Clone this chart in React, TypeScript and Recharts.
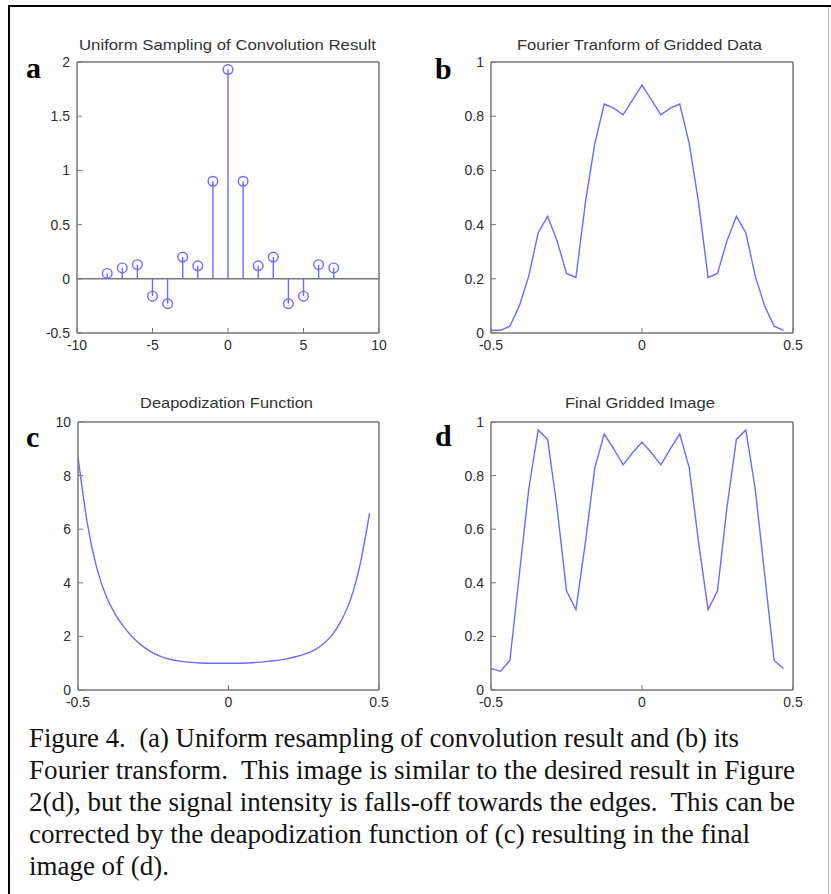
import React from "react";
import { ComposedChart, Line, Scatter, XAxis, YAxis, ReferenceLine } from "recharts";

// (a) stem samples
const stemX = [-8, -7, -6, -5, -4, -3, -2, -1, 0, 1, 2, 3, 4, 5, 6, 7];
const stemY = [0.05, 0.1, 0.13, -0.16, -0.23, 0.2, 0.12, 0.9, 1.93, 0.9, 0.12, 0.2, -0.23, -0.16, 0.13, 0.1];

// (b)-(d) share the same 32 sample positions
const freqX = [
  -0.5, -0.46875, -0.4375, -0.40625, -0.375, -0.34375, -0.3125, -0.28125,
  -0.25, -0.21875, -0.1875, -0.15625, -0.125, -0.09375, -0.0625, -0.03125,
  0, 0.03125, 0.0625, 0.09375, 0.125, 0.15625, 0.1875, 0.21875,
  0.25, 0.28125, 0.3125, 0.34375, 0.375, 0.40625, 0.4375, 0.46875,
];
const fourierY = [
  0.01, 0.01, 0.025, 0.1, 0.21, 0.37, 0.43, 0.34,
  0.22, 0.205, 0.48, 0.7, 0.845, 0.83, 0.805, 0.86,
  0.915, 0.86, 0.805, 0.83, 0.845, 0.7, 0.48, 0.205,
  0.22, 0.34, 0.43, 0.37, 0.21, 0.1, 0.025, 0.01,
];
const deapY = [
  8.7, 6.2, 4.55, 3.5, 2.8, 2.3, 1.9, 1.6,
  1.38, 1.23, 1.13, 1.07, 1.03, 1.01, 1.0, 1.0,
  1.0, 1.0, 1.01, 1.03, 1.06, 1.1, 1.15, 1.23,
  1.33, 1.47, 1.7, 2.05, 2.6, 3.4, 4.7, 6.6,
];
const finalY = [
  0.08, 0.07, 0.11, 0.43, 0.75, 0.97, 0.935, 0.68,
  0.37, 0.3, 0.55, 0.83, 0.955, 0.9, 0.84, 0.885,
  0.925, 0.885, 0.84, 0.9, 0.955, 0.83, 0.55, 0.3,
  0.37, 0.68, 0.935, 0.97, 0.75, 0.43, 0.11, 0.08,
];

const stemTicksX = [-10, -5, 0, 5, 10];
const stemTicksY = [-0.5, 0, 0.5, 1, 1.5, 2];
const unitTicksX = [-0.5, 0, 0.5];
const fracTicksY = [0, 0.2, 0.4, 0.6, 0.8, 1];
const deapTicksY = [0, 2, 4, 6, 8, 10];

const titles = [
  "Uniform Sampling of Convolution Result",
  "Fourier Tranform of Gridded Data",
  "Deapodization Function",
  "Final Gridded Image",
];
const captionLines = [
  "Figure 4.  (a) Uniform resampling of convolution result and (b) its",
  "Fourier transform.  This image is similar to the desired result in Figure",
  "2(d), but the signal intensity is falls-off towards the edges.  This can be",
  "corrected by the deapodization function of (c) resulting in the final",
  "image of (d).",
];

const stemRows = stemX.map((x, i) => ({ x, y: stemY[i] }));
const fourierRows = freqX.map((x, i) => ({ x, y: fourierY[i] }));
const deapRows = freqX.map((x, i) => ({ x, y: deapY[i] }));
const finalRows = freqX.map((x, i) => ({ x, y: finalY[i] }));

const AXIS = "#777";
const BLUE = "#6b6bff";
const SANS = "'Liberation Sans', Arial, sans-serif";
const SERIF = "'Liberation Serif', 'Times New Roman', serif";
const tickFont = { fontSize: 14, fill: "#2e2e2e", fontFamily: SANS };
const axisLine = { stroke: AXIS, strokeWidth: 1.5 };

type PanelProps = {
  left: number;
  top: number;
  w: number;
  h: number;
  xDomain: [number, number];
  xTicks: number[];
  yDomain: [number, number];
  yTicks: number[];
  data: { x: number; y: number }[];
  children: React.ReactNode;
};

const Panel = ({ left, top, w, h, xDomain, xTicks, yDomain, yTicks, data, children }: PanelProps) => (
  <div style={{ position: "absolute", left: left - 60, top: top - 10 }}>
    <ComposedChart width={60 + w + 10} height={10 + h + 30} data={data} margin={{ top: 9, right: 9, left: 0, bottom: 0 }}>
      <XAxis xAxisId="b" dataKey="x" type="number" domain={xDomain} ticks={xTicks} interval={0} allowDataOverflow
        height={30} tickSize={-5} tickMargin={12} tick={tickFont} axisLine={axisLine} tickLine={{ stroke: AXIS }} />
      <XAxis xAxisId="t" orientation="top" type="number" domain={xDomain} ticks={xTicks} interval={0} allowDataOverflow
        height={1} tickSize={-5} tick={false} axisLine={axisLine} tickLine={{ stroke: AXIS }} />
      <YAxis yAxisId="l" type="number" domain={yDomain} ticks={yTicks} interval={0} allowDataOverflow
        width={60} tickSize={-5} tickMargin={12} tick={tickFont} axisLine={axisLine} tickLine={{ stroke: AXIS }} />
      <YAxis yAxisId="r" orientation="right" type="number" domain={yDomain} ticks={yTicks} interval={0} allowDataOverflow
        width={1} tickSize={-5} tick={false} axisLine={axisLine} tickLine={{ stroke: AXIS }} />
      {children}
    </ComposedChart>
  </div>
);

const curve = (type: "linear" | "monotone") => (
  <Line xAxisId="b" yAxisId="l" type={type} dataKey="y" stroke={BLUE} strokeWidth={1.4} dot={false} isAnimationActive={false} />
);

export default function App() {
  return (
    <div style={{ position: "absolute", left: 0, top: 0, width: 831, height: 894, background: "#fff", overflow: "hidden" }}>
      <Panel left={77} top={62} w={302} h={271} xDomain={[-10, 10]} xTicks={stemTicksX} yDomain={[-0.5, 2]} yTicks={stemTicksY} data={stemRows}>
        <ReferenceLine xAxisId="b" yAxisId="l" y={0} stroke={AXIS} strokeWidth={1.5} />
        {stemRows.map((r) => (
          <ReferenceLine key={r.x} xAxisId="b" yAxisId="l" segment={[{ x: r.x, y: 0 }, { x: r.x, y: r.y }]} stroke={BLUE} strokeWidth={1.4} />
        ))}
        <Scatter xAxisId="b" yAxisId="l" data={stemRows} dataKey="y" isAnimationActive={false}
          shape={(p: any) => <circle cx={p.cx} cy={p.cy} r={4.8} fill="none" stroke={BLUE} strokeWidth={1.4} />} />
      </Panel>
      <Panel left={491} top={62} w={302} h={271} xDomain={[-0.5, 0.5]} xTicks={unitTicksX} yDomain={[0, 1]} yTicks={fracTicksY} data={fourierRows}>
        {curve("linear")}
      </Panel>
      <Panel left={78} top={422} w={301} h={268} xDomain={[-0.5, 0.5]} xTicks={unitTicksX} yDomain={[0, 10]} yTicks={deapTicksY} data={deapRows}>
        {curve("monotone")}
      </Panel>
      <Panel left={491} top={422} w={302} h={268} xDomain={[-0.5, 0.5]} xTicks={unitTicksX} yDomain={[0, 1]} yTicks={fracTicksY} data={finalRows}>
        {curve("linear")}
      </Panel>

      <svg width={831} height={894} style={{ position: "absolute", left: 0, top: 0, pointerEvents: "none" }}>
        <line x1={9} y1={5} x2={9} y2={894} stroke="#000" strokeWidth={2} />
        <line x1={8} y1={6} x2={831} y2={6} stroke="#000" strokeWidth={2} />
        <line x1={828.5} y1={7} x2={828.5} y2={894} stroke="#bbb" strokeWidth={1} />

        <text x={227.5} y={50} textAnchor="middle" textLength={297} lengthAdjust="spacingAndGlyphs" fontSize={15} fill="#333" fontFamily={SANS}>{titles[0]}</text>
        <text x={639.5} y={50} textAnchor="middle" textLength={245} lengthAdjust="spacingAndGlyphs" fontSize={15} fill="#333" fontFamily={SANS}>{titles[1]}</text>
        <text x={226.5} y={408} textAnchor="middle" textLength={173} lengthAdjust="spacingAndGlyphs" fontSize={15} fill="#333" fontFamily={SANS}>{titles[2]}</text>
        <text x={640} y={408} textAnchor="middle" textLength={150} lengthAdjust="spacingAndGlyphs" fontSize={15} fill="#333" fontFamily={SANS}>{titles[3]}</text>

        <text x={26} y={78} fontSize={30} fontWeight="bold" fontFamily={SERIF}>a</text>
        <text x={435} y={79} fontSize={30} fontWeight="bold" fontFamily={SERIF}>b</text>
        <text x={26} y={447} fontSize={30} fontWeight="bold" fontFamily={SERIF}>c</text>
        <text x={435} y={446} fontSize={30} fontWeight="bold" fontFamily={SERIF}>d</text>

        {captionLines.map((t, i) => (
          <text key={i} x={29} y={747 + i * 32} textLength={[710, 766, 766, 721, 140][i]} lengthAdjust="spacingAndGlyphs"
            fontSize={28} fill="#111" fontFamily={SERIF} style={{ whiteSpace: "pre" }}>{t}</text>
        ))}
      </svg>
    </div>
  );
}
